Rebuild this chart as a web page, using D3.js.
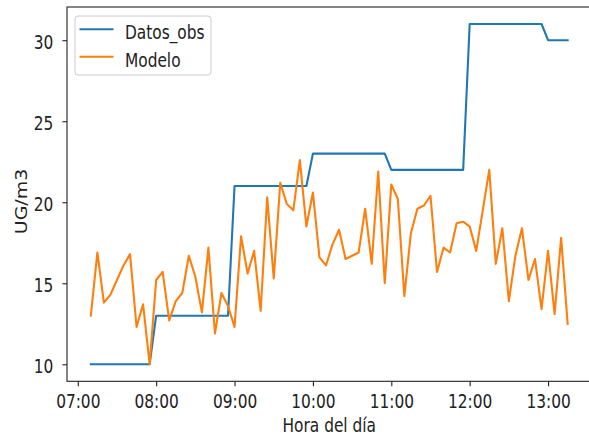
<!DOCTYPE html>
<html>
<head>
<meta charset="utf-8">
<script src="https://cdn.jsdelivr.net/npm/d3@7"></script>
<style>
  html, body { margin: 0; padding: 0; background: #fff; }
  svg { display: block; }
  text { font-family: "DejaVu Sans", sans-serif; fill: #222; }
</style>
</head>
<body>
<svg id="chart" width="589" height="438"></svg>
<script>
// Sampling times (every 5 minutes)
const times = [
  "07:10","07:15","07:20","07:25","07:30","07:35","07:40","07:45","07:50","07:55",
  "08:00","08:05","08:10","08:15","08:20","08:25","08:30","08:35","08:40","08:45","08:50","08:55",
  "09:00","09:05","09:10","09:15","09:20","09:25","09:30","09:35","09:40","09:45","09:50","09:55",
  "10:00","10:05","10:10","10:15","10:20","10:25","10:30","10:35","10:40","10:45","10:50","10:55",
  "11:00","11:05","11:10","11:15","11:20","11:25","11:30","11:35","11:40","11:45","11:50","11:55",
  "12:00","12:05","12:10","12:15","12:20","12:25","12:30","12:35","12:40","12:45","12:50","12:55",
  "13:00","13:05","13:10","13:15"
];

// Observed concentrations (hourly values held over each 5-minute step)
const datosObs = [
  10,10,10,10,10,10,10,10,10,10,
  13,13,13,13,13,13,13,13,13,13,13,13,
  21,21,21,21,21,21,21,21,21,21,21,21,
  23,23,23,23,23,23,23,23,23,23,23,23,
  22,22,22,22,22,22,22,22,22,22,22,22,
  31,31,31,31,31,31,31,31,31,31,31,31,
  30,30,30,30
];

// Model output
const modelo = [
  13.0,16.9,13.8,14.3,15.2,16.1,16.8,12.3,13.7,10.0,
  15.2,15.7,12.7,13.9,14.4,16.7,15.4,13.2,17.2,11.9,14.4,13.6,
  12.3,17.9,15.6,17.0,13.3,20.3,15.3,21.2,19.9,19.5,22.6,18.5,
  20.6,16.6,16.1,17.4,18.3,16.5,16.7,16.9,19.6,16.2,21.9,15.0,
  21.1,20.2,14.2,18.1,19.6,19.8,20.4,15.7,17.2,16.9,18.7,18.8,
  18.5,17.0,19.5,22.0,16.2,18.4,13.9,16.7,18.4,15.2,16.5,13.4,
  17.0,13.1,17.8,12.5
];

const yTicks = [10, 15, 20, 25, 30];
const xTickLabels = ["07:00","08:00","09:00","10:00","11:00","12:00","13:00"];
const seriesNames = ["Datos_obs", "Modelo"];
const seriesColors = ["#1f77b4", "#ff7f0e"];
const xLabel = "Hora del día";
const yLabel = "UG/m3";

// Text is drawn slightly narrow (horizontal squeeze) to fit the figure's proportions
const FONT = 19;
const SX = 0.81;

const parse = d3.timeParse("%H:%M");
const fmt = d3.timeFormat("%H:%M");
const t = times.map(parse);

const svg = d3.select("#chart");
const plot = { left: 67, right: 591.5, top: 7, bottom: 381.3 };

// Axis limits with 5% padding around the data extent
const tExt = d3.extent(t);
const tPad = (tExt[1] - tExt[0]) * 0.05;
const yMin = d3.min([...datosObs, ...modelo]);
const yMax = d3.max([...datosObs, ...modelo]);
const yPad = (yMax - yMin) * 0.05;

const x = d3.scaleTime()
  .domain([new Date(+tExt[0] - tPad), new Date(+tExt[1] + tPad)])
  .range([plot.left, plot.right]);
const y = d3.scaleLinear()
  .domain([yMin - yPad, yMax + yPad])
  .range([plot.bottom, plot.top]);

// Clip region for data lines
svg.append("defs").append("clipPath").attr("id", "clip")
  .append("rect")
  .attr("x", plot.left).attr("y", plot.top)
  .attr("width", plot.right - plot.left).attr("height", plot.bottom - plot.top);

const line = d3.line().x((d, i) => x(t[i])).y(d => y(d));
const data = [datosObs, modelo];

svg.append("g").attr("clip-path", "url(#clip)")
  .selectAll("path")
  .data(data)
  .join("path")
  .attr("d", line)
  .attr("fill", "none")
  .attr("stroke", (d, i) => seriesColors[i])
  .attr("stroke-width", 2.1)
  .attr("stroke-linejoin", "round")
  .attr("stroke-linecap", "square");

// Axes
const xAxis = d3.axisBottom(x)
  .tickValues(xTickLabels.map(parse))
  .tickFormat(fmt)
  .tickSize(5)
  .tickPadding(8);
const yAxis = d3.axisLeft(y)
  .tickValues(yTicks)
  .tickSize(4.6);

const gx = svg.append("g").attr("transform", `translate(0,${plot.bottom})`).call(xAxis);
const gy = svg.append("g").attr("transform", `translate(${plot.left},0)`).call(yAxis);
[gx, gy].forEach(g => {
  g.select(".domain").remove();
  g.selectAll(".tick line").attr("stroke", "#222").attr("stroke-width", 1.1);
  g.selectAll(".tick text").attr("font-size", FONT).attr("fill", "#222")
    .style("font-family", "'DejaVu Sans', sans-serif")
    .attr("transform", `scale(${SX},1)`);
});
gy.selectAll(".tick text").attr("x", -13.7 / SX).attr("dy", "0.44em");

// Frame
svg.append("rect")
  .attr("x", plot.left).attr("y", plot.top)
  .attr("width", plot.right - plot.left).attr("height", plot.bottom - plot.top)
  .attr("fill", "none").attr("stroke", "#222").attr("stroke-width", 1.1);

// Axis titles
svg.append("text")
  .attr("transform", `translate(${(plot.left + plot.right) / 2},432) scale(${SX},1)`)
  .attr("text-anchor", "middle")
  .attr("font-size", FONT)
  .text(xLabel);

svg.append("text")
  .attr("transform", `translate(26.5,201.5) scale(${SX},1) rotate(-90)`)
  .attr("text-anchor", "middle")
  .attr("font-size", FONT)
  .text(yLabel);

// Legend
const leg = svg.append("g").attr("transform", "translate(75,16)");
leg.append("rect")
  .attr("width", 136).attr("height", 59).attr("rx", 3)
  .attr("fill", "#fff").attr("fill-opacity", 0.8)
  .attr("stroke", "#ccc").attr("stroke-width", 1);
const items = leg.selectAll("g.item")
  .data(seriesNames)
  .join("g")
  .attr("class", "item")
  .attr("transform", (d, i) => `translate(0,${13.3 + i * 27.4})`);
items.append("line")
  .attr("x1", 4.5).attr("x2", 38.5)
  .attr("stroke", (d, i) => seriesColors[i])
  .attr("stroke-width", 2.1);
items.append("text")
  .attr("transform", `translate(50,10) scale(${SX},1)`)
  .attr("font-size", FONT)
  .text(d => d);
</script>
</body>
</html>
